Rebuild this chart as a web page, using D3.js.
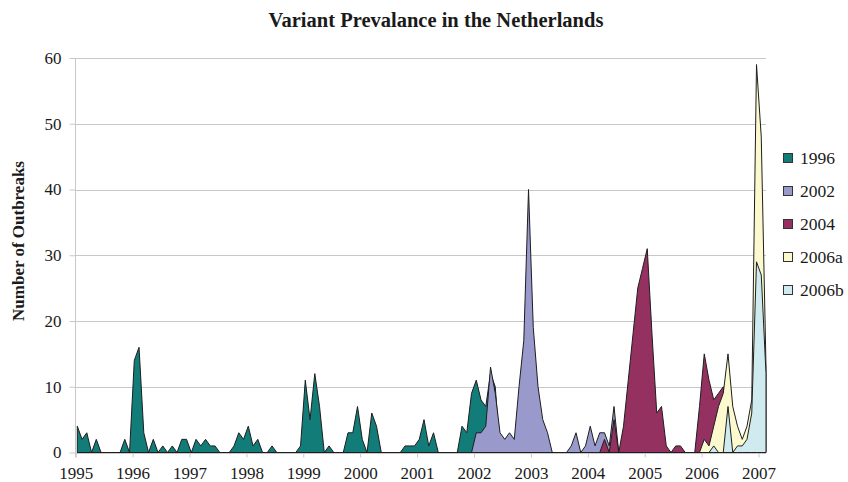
<!DOCTYPE html>
<html>
<head>
<meta charset="utf-8">
<script src="https://cdn.jsdelivr.net/npm/d3@7"></script>
<style>
body { margin: 0; background: #fff; }
text { font-family: "Liberation Serif", "Times New Roman", serif; fill: #1a1a1a; }
</style>
</head>
<body>
<svg id="chart" width="848" height="482"></svg>
<script>
// monthly counts, Jan 1995 .. Feb 2007 (146 months)
var years = ['1995', '1996', '1997', '1998', '1999', '2000', '2001', '2002', '2003', '2004', '2005', '2006', '2007'];
var yTicks = [0, 10, 20, 30, 40, 50, 60];
var seriesNames = ['1996', '2002', '2004', '2006a', '2006b'];
var seriesColors = ['#127c79', '#9999cc', '#943160', '#fcf9cf', '#cfebf0'];

var v1996 = [4, 2, 3, 0, 2, 0, 0, 0, 0, 0, 2, 0,
	14, 16, 3, 0, 2, 0, 1, 0, 1, 0, 2, 2,
	0, 2, 1, 2, 1, 1, 0, 0, 0, 1, 3, 2,
	4, 1, 2, 0, 0, 1, 0, 0, 0, 0, 0, 1,
	11, 5, 12, 7, 0, 1, 0, 0, 0, 3, 3, 7,
	2, 0, 6, 4, 0, 0, 0, 0, 0, 1, 1, 1,
	2, 5, 1, 3, 0, 0, 0, 0, 0, 4, 3, 9,
	11, 8, 7, 12, 10, 0, 0, 0, 0, 0, 0, 0,
	0, 0, 0, 0, 0, 0, 0, 0, 0, 0, 0, 0,
	0, 0, 0, 0, 0, 0, 0, 0, 0, 0, 0, 0,
	0, 0, 0, 0, 0, 0, 0, 0, 0, 0, 0, 0,
	0, 0, 0, 0, 0, 0, 0, 0, 0, 0, 0, 0,
	0, 0];
var v2002 = [0, 0, 0, 0, 0, 0, 0, 0, 0, 0, 0, 0,
	0, 0, 0, 0, 0, 0, 0, 0, 0, 0, 0, 0,
	0, 0, 0, 0, 0, 0, 0, 0, 0, 0, 0, 0,
	0, 0, 0, 0, 0, 0, 0, 0, 0, 0, 0, 0,
	0, 0, 0, 0, 0, 0, 0, 0, 0, 0, 0, 0,
	0, 0, 0, 0, 0, 0, 0, 0, 0, 0, 0, 0,
	0, 0, 0, 0, 0, 0, 0, 0, 0, 0, 0, 0,
	3, 3, 4, 13, 9, 3, 2, 3, 2, 10, 17, 40,
	19, 10, 5, 3, 0, 0, 0, 0, 1, 3, 0, 1,
	4, 1, 3, 3, 1, 7, 0, 0, 0, 0, 0, 0,
	0, 0, 0, 0, 0, 0, 0, 0, 0, 0, 0, 0,
	0, 0, 0, 0, 0, 0, 0, 0, 0, 0, 0, 0,
	0, 0];
var v2004 = [0, 0, 0, 0, 0, 0, 0, 0, 0, 0, 0, 0,
	0, 0, 0, 0, 0, 0, 0, 0, 0, 0, 0, 0,
	0, 0, 0, 0, 0, 0, 0, 0, 0, 0, 0, 0,
	0, 0, 0, 0, 0, 0, 0, 0, 0, 0, 0, 0,
	0, 0, 0, 0, 0, 0, 0, 0, 0, 0, 0, 0,
	0, 0, 0, 0, 0, 0, 0, 0, 0, 0, 0, 0,
	0, 0, 0, 0, 0, 0, 0, 0, 0, 0, 0, 0,
	0, 0, 0, 0, 0, 0, 0, 0, 0, 0, 0, 0,
	0, 0, 0, 0, 0, 0, 0, 0, 0, 0, 0, 0,
	0, 0, 0, 2, 0, 5, 0, 4, 11, 18, 25, 28,
	31, 18, 6, 7, 1, 0, 1, 1, 0, 0, 0, 7,
	15, 11, 8, 9, 10, 0, 0, 0, 0, 0, 0, 0,
	0, 0];
var v2006a = [0, 0, 0, 0, 0, 0, 0, 0, 0, 0, 0, 0,
	0, 0, 0, 0, 0, 0, 0, 0, 0, 0, 0, 0,
	0, 0, 0, 0, 0, 0, 0, 0, 0, 0, 0, 0,
	0, 0, 0, 0, 0, 0, 0, 0, 0, 0, 0, 0,
	0, 0, 0, 0, 0, 0, 0, 0, 0, 0, 0, 0,
	0, 0, 0, 0, 0, 0, 0, 0, 0, 0, 0, 0,
	0, 0, 0, 0, 0, 0, 0, 0, 0, 0, 0, 0,
	0, 0, 0, 0, 0, 0, 0, 0, 0, 0, 0, 0,
	0, 0, 0, 0, 0, 0, 0, 0, 0, 0, 0, 0,
	0, 0, 0, 0, 0, 0, 0, 0, 0, 0, 0, 0,
	0, 0, 0, 0, 0, 0, 0, 0, 0, 0, 0, 0,
	2, 1, 4, 7, 9, 15, 7, 4, 2, 4, 8, 59,
	48, 13];
var v2006b = [0, 0, 0, 0, 0, 0, 0, 0, 0, 0, 0, 0,
	0, 0, 0, 0, 0, 0, 0, 0, 0, 0, 0, 0,
	0, 0, 0, 0, 0, 0, 0, 0, 0, 0, 0, 0,
	0, 0, 0, 0, 0, 0, 0, 0, 0, 0, 0, 0,
	0, 0, 0, 0, 0, 0, 0, 0, 0, 0, 0, 0,
	0, 0, 0, 0, 0, 0, 0, 0, 0, 0, 0, 0,
	0, 0, 0, 0, 0, 0, 0, 0, 0, 0, 0, 0,
	0, 0, 0, 0, 0, 0, 0, 0, 0, 0, 0, 0,
	0, 0, 0, 0, 0, 0, 0, 0, 0, 0, 0, 0,
	0, 0, 0, 0, 0, 0, 0, 0, 0, 0, 0, 0,
	0, 0, 0, 0, 0, 0, 0, 0, 0, 0, 0, 0,
	0, 0, 1, 0, 0, 7, 0, 1, 1, 2, 6, 29,
	27, 12];

var seriesValues = [v1996, v2002, v2004, v2006a, v2006b];

var serif = '"Liberation Serif", "Times New Roman", serif';
var svg = d3.select('#chart');
var plotLeft = 75, plotRight = 766;

var x = d3.scaleLinear().domain([0, v1996.length - 1]).range([77.3, plotRight]);
var y = d3.scaleLinear().domain([0, 60]).range([452.5, 58]);
// year ticks sit a little left of the January points, as in the original
var xYear = d3.scaleLinear().domain([0, years.length - 1]).range([75.7, 758.5]);

svg.append('rect').attr('width', 848).attr('height', 482).attr('fill', '#fff');

// gridlines
svg.append('g').selectAll('line')
		.data(yTicks)
	.enter()
		.append('line')
		.attr('x1', plotLeft).attr('x2', plotRight)
		.attr('y1', function (d) { return Math.round(y(d)) + 0.5; })
		.attr('y2', function (d) { return Math.round(y(d)) + 0.5; })
		.attr('stroke', '#c8c8c8');

// y axis
var yAxis = svg.append('g')
	.attr('transform', 'translate(' + (plotLeft + 0.5) + ',0)')
	.call(d3.axisLeft(y).tickValues(yTicks).tickSize(6).tickPadding(8).tickSizeOuter(0));
yAxis.select('.domain').attr('stroke', '#c8c8c8').attr('d', 'M0,' + y(60) + 'V' + (y(0) + 5));
yAxis.selectAll('.tick line').attr('stroke', '#c8c8c8');
yAxis.selectAll('.tick text').attr('font-size', 17).attr('fill', '#1a1a1a')
	.style('font-family', serif);

// x axis
var xAxis = svg.append('g')
	.attr('transform', 'translate(0,' + y(0) + ')')
	.call(d3.axisBottom(xYear).tickValues(d3.range(years.length)).tickSize(5).tickPadding(9)
		.tickFormat(function (d) { return years[d]; }));
xAxis.select('.domain').remove();
xAxis.selectAll('.tick line').attr('stroke', '#c8c8c8');
xAxis.selectAll('.tick text').attr('font-size', 17).attr('fill', '#1a1a1a')
	.style('font-family', serif);

// areas, drawn in legend order so later variants sit on top
var area = d3.area()
	.x(function (d, i) { return x(i); })
	.y0(y(0))
	.y1(function (d) { return y(d); });

svg.append('g').selectAll('path')
		.data(seriesValues)
	.enter()
		.append('path')
		.attr('d', area)
		.attr('fill', function (d, i) { return seriesColors[i]; })
		.attr('stroke', '#1e1e1e')
		.attr('stroke-width', 1)
		.attr('stroke-linejoin', 'miter');

// title
svg.append('text')
	.attr('x', 436).attr('y', 27)
	.attr('text-anchor', 'middle')
	.attr('font-size', 20.5).attr('font-weight', 'bold')
	.style('font-family', serif)
	.text('Variant Prevalance in the Netherlands');

svg.append('text')
	.attr('transform', 'translate(24,241) rotate(-90)')
	.attr('text-anchor', 'middle')
	.attr('font-size', 17).attr('font-weight', 'bold')
	.style('font-family', serif)
	.text('Number of Outbreaks');

// legend
var legend = svg.append('g').selectAll('g')
		.data(seriesNames)
	.enter()
		.append('g')
		.attr('transform', function (d, i) { return 'translate(783,' + (158 + i * 33) + ')'; });
legend.append('rect')
	.attr('x', 0.5).attr('y', -4.5)
	.attr('width', 9).attr('height', 9)
	.attr('fill', function (d, i) { return seriesColors[i]; })
	.attr('stroke', '#333');
legend.append('text')
	.attr('x', 17).attr('y', 0).attr('dy', '0.35em')
	.attr('font-size', 17.5)
	.style('font-family', serif)
	.text(function (d) { return d; });
</script>
</body>
</html>
